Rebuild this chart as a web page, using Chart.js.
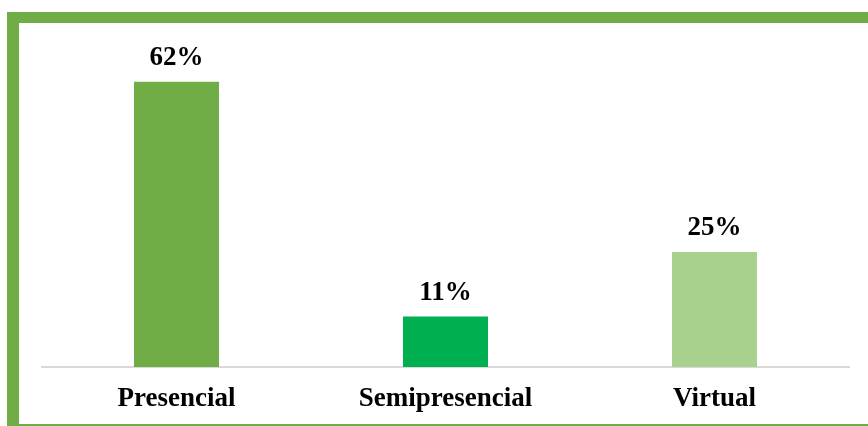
<!DOCTYPE html>
<html>
<head>
<meta charset="utf-8">
<script src="https://cdn.jsdelivr.net/npm/chart.js@4"></script>
<style>
  html, body { margin: 0; padding: 0; background: #fff; overflow: hidden; }
  #frame { position: absolute; left: 7px; top: 12px; width: 1000px; height: 423px;
           box-sizing: border-box; border: 11px solid #70AD47; border-left-width: 12px; }
  #wrap { position: absolute; left: 0; top: 0; width: 868px; height: 426px; }
</style>
</head>
<body>
<div id="frame"></div>
<div id="wrap"><canvas id="c" width="868" height="426"></canvas></div>
<script>
const categories = ["Presencial", "Semipresencial", "Virtual"];
const values = [62, 11, 25];
const barColors = ["#70AD47", "#00B050", "#A9D18E"];
const valueLabels = ["62%", "11%", "25%"];

const FONT = "'Liberation Serif', 'Times New Roman', serif";

const topLabels = {
  id: 'topLabels',
  afterDatasetsDraw(chart) {
    const ctx = chart.ctx;
    const meta = chart.getDatasetMeta(0);
    ctx.save();
    ctx.font = "bold 27px " + FONT;
    ctx.fillStyle = "#000";
    ctx.textAlign = "center";
    ctx.textBaseline = "bottom";
    meta.data.forEach((bar, i) => {
      ctx.fillText(valueLabels[i], bar.x, bar.y - 10);
    });
    ctx.restore();
  }
};

new Chart(document.getElementById('c'), {
  type: 'bar',
  data: {
    labels: categories,
    datasets: [{
      data: values,
      backgroundColor: barColors,
      borderWidth: 0,
      categoryPercentage: 1,
      barPercentage: 0.316
    }]
  },
  options: {
    responsive: false,
    animation: false,
    layout: { padding: { left: 42, right: 19, top: 45, bottom: 0 } },
    plugins: { legend: { display: false }, tooltip: { enabled: false } },
    scales: {
      y: { display: false, min: 0, max: 70 },
      x: {
        afterFit(scale) { scale.height = 59; },
        grid: { display: false, drawTicks: false },
        border: { display: true, color: '#D9D9D9', width: 2 },
        ticks: { color: '#000', padding: 16, font: { family: FONT, size: 27, weight: 'bold' } }
      }
    }
  },
  plugins: [topLabels]
});
</script>
</body>
</html>
